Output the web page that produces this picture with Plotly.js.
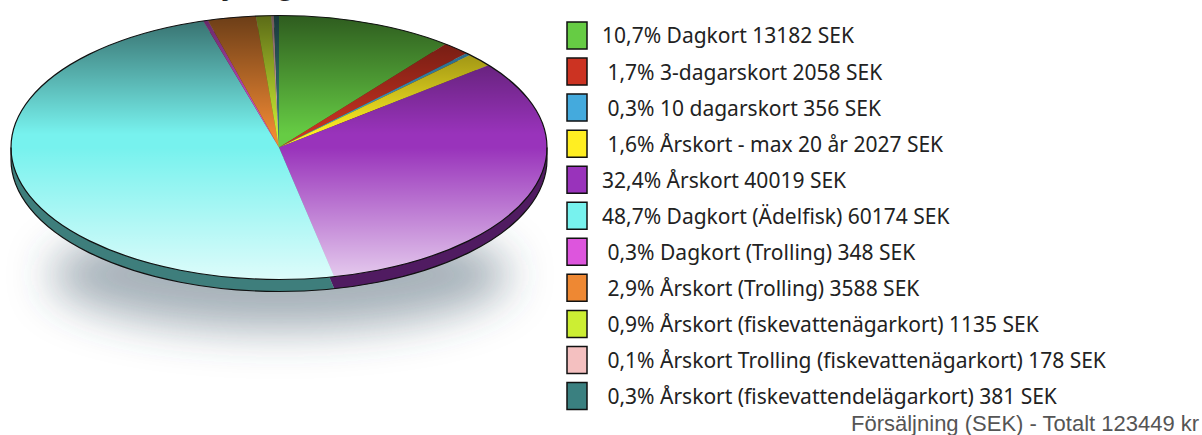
<!DOCTYPE html>
<html><head><meta charset="utf-8">
<script src="https://cdn.plot.ly/plotly-3.0.1.min.js"></script>
<style>html,body{margin:0;padding:0;background:#fff;} #chart{width:1202px;height:435px;}</style>
</head><body><div id="chart"></div>
<script>
// ---- data ----
const categories = ['Dagkort','3-dagarskort','10 dagarskort','Årskort - max 20 år','Årskort','Dagkort (Ädelfisk)','Dagkort (Trolling)','Årskort (Trolling)','Årskort (fiskevattenägarkort)','Årskort Trolling (fiskevattenägarkort)','Årskort (fiskevattendelägarkort)'];
const valuesSEK = [13182, 2058, 356, 2027, 40019, 60174, 348, 3588, 1135, 178, 381];
const sliceColors = ['#66cc44','#cc3322','#44aadd','#ffee22','#9933bb','#77f2ee','#dd55dd','#ee8833','#ccee33','#f4c0c0','#3a8080'];
const footerText = 'Försäljning (SEK) - Totalt 123449 kr';
const titleText = 'Försäljning';
const unit = 'SEK';

// ---- geometry / style ----
const W = 1202, H = 435;
const PIE_CX = 279, PIE_CY = 147.5, RX = 268, RY = 132, DEPTH = 12;
const px = v => v / W, py = v => 1 - v / H;

function darken(hex, f) {
  const n = parseInt(hex.slice(1), 16);
  const r = Math.round(((n >> 16) & 255) * f), g = Math.round(((n >> 8) & 255) * f), b = Math.round((n & 255) * f);
  return 'rgb(' + r + ',' + g + ',' + b + ')';
}
const edgeColors = sliceColors.map(c => darken(c, 0.52));

const total = valuesSEK.reduce((a, b) => a + b, 0);
const pctText = valuesSEK.map(v => {
  const p = v / total * 100;
  return (p < 10 ? '\u00a0' : '') + p.toFixed(1).replace('.', ',') + '%';
});

const pieBase = {
  type: 'pie', values: valuesSEK, labels: categories, sort: false, direction: 'clockwise',
  textinfo: 'none', hoverinfo: 'none', showlegend: false,
  domain: {x: [0, 0.5], y: [0, 1]}
};
const edgeTrace = Object.assign({}, pieBase, {marker: {colors: edgeColors, line: {width: 0}}});
const topTrace = Object.assign({}, pieBase, {marker: {colors: sliceColors, line: {width: 0}}});

// overlay (shading + outline) as svg image
const ovW = 540, ovH = 282;
const ovSvg = "<svg xmlns='http://www.w3.org/2000/svg' width='" + ovW + "' height='" + ovH + "' viewBox='0 0 " + ovW + " " + ovH + "'>" +
  "<defs><linearGradient id='g' x1='0' y1='0' x2='0' y2='1'>" +
  "<stop offset='0' stop-color='#000' stop-opacity='0.55'/>" +
  "<stop offset='0.45' stop-color='#000' stop-opacity='0'/>" +
  "<stop offset='0.5' stop-color='#fff' stop-opacity='0'/>" +
  "<stop offset='1' stop-color='#fff' stop-opacity='0.75'/>" +
  "</linearGradient></defs>" +
  "<ellipse cx='270' cy='134' rx='" + RX + "' ry='" + RY + "' fill='url(#g)' stroke='#111' stroke-width='1.2'/>" +
  "<path d='M2,134 L2," + (134 + DEPTH) + " A" + RX + " " + RY + " 0 0 0 538," + (134 + DEPTH) + " L538,134' fill='none' stroke='#111' stroke-width='1.2'/>" +
  "</svg>";
const shSvg = "<svg xmlns='http://www.w3.org/2000/svg' width='640' height='300' viewBox='0 0 640 300'>" +
  "<defs><filter id='b' x='-50%' y='-50%' width='200%' height='200%'><feGaussianBlur stdDeviation='22'/></filter></defs>" +
  "<ellipse cx='310' cy='130' rx='230' ry='55' fill='#3a5566' fill-opacity='0.45' filter='url(#b)'/>" +
  "</svg>";
const uri = s => 'data:image/svg+xml;charset=utf-8,' + encodeURIComponent(s);

const images = [
  {source: uri(shSvg), xref: 'paper', yref: 'paper', x: px(-30), y: py(145), sizex: 640 / W, sizey: 300 / H,
   xanchor: 'left', yanchor: 'top', sizing: 'stretch', layer: 'below'},
  {source: uri(ovSvg), xref: 'paper', yref: 'paper', x: px(PIE_CX - 270), y: py(PIE_CY - 134), sizex: ovW / W, sizey: ovH / H,
   xanchor: 'left', yanchor: 'top', sizing: 'stretch', layer: 'above'}
];

// legend (manual)
const ROW0 = 35.5, ROWGAP = 36.05;
const shapes = [], annotations = [];
categories.forEach((c, i) => {
  const yc = ROW0 + i * ROWGAP;
  shapes.push({type: 'rect', xref: 'paper', yref: 'paper', x0: px(567), x1: px(587), y0: py(yc - 13.5), y1: py(yc + 13.5),
    fillcolor: sliceColors[i], line: {color: '#111', width: 1.5}});
  annotations.push({xref: 'paper', yref: 'paper', x: px(600), y: py(yc), xanchor: 'left', yanchor: 'middle', showarrow: false,
    text: pctText[i] + ' ' + c + ' ' + valuesSEK[i] + ' ' + unit,
    font: {family: 'Noto Sans, sans-serif', size: 21, color: '#222'}});
});
annotations.push({xref: 'paper', yref: 'paper', x: px(1201), y: py(423), xanchor: 'right', yanchor: 'middle', showarrow: false,
  text: footerText, font: {family: 'Liberation Sans, Arial, sans-serif', size: 22, color: '#555'}});
annotations.push({xref: 'paper', yref: 'paper', x: px(131), y: py(3.5), xanchor: 'left', yanchor: 'bottom', showarrow: false,
  text: '<b>' + titleText + '</b>', font: {family: 'Liberation Sans, Arial, sans-serif', size: 30, color: '#222'}});

const layout = {
  width: W, height: H, margin: {l: 0, r: 0, t: 0, b: 0},
  paper_bgcolor: '#fff', plot_bgcolor: '#fff', showlegend: false,
  images: images, shapes: shapes, annotations: annotations
};

Plotly.newPlot('chart', [edgeTrace, topTrace], layout, {staticPlot: true}).then(gd => {
  const groups = gd.querySelectorAll('.pielayer g.trace');
  groups.forEach((g, i) => {
    const cd0 = gd.calcdata[i][0];
    const dy = i === 0 ? DEPTH : 0;
    g.setAttribute('transform', 'translate(' + PIE_CX + ',' + (PIE_CY + dy) + ') scale(' + (RX / cd0.r) + ',' + (RY / cd0.r) + ') translate(' + (-cd0.cx) + ',' + (-cd0.cy) + ')');
  });
});
</script>
</body></html>
